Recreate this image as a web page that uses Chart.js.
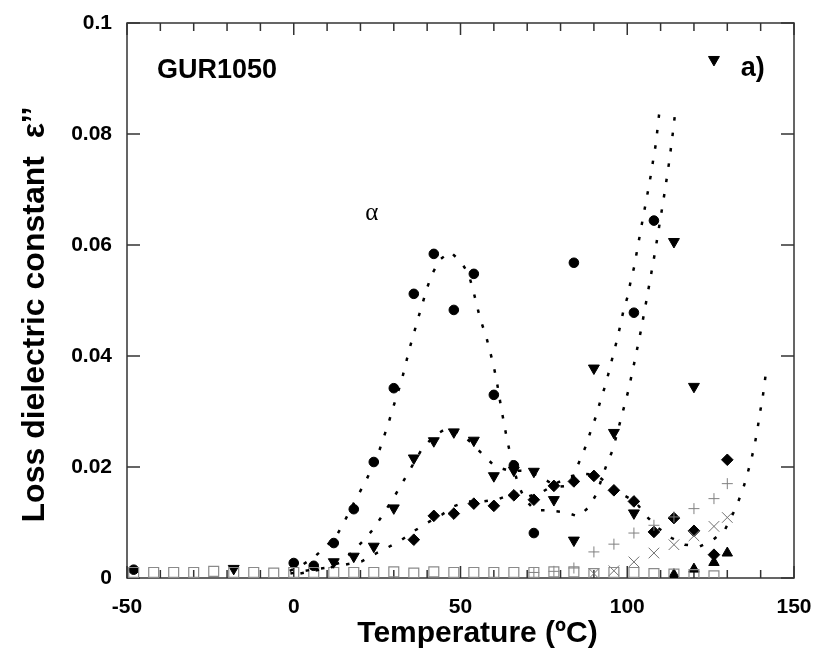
<!DOCTYPE html>
<html>
<head>
<meta charset="utf-8">
<script src="https://cdn.jsdelivr.net/npm/chart.js@4.4.0/dist/chart.umd.min.js"></script>
<style>
html,body{margin:0;padding:0;background:#fff}
canvas{display:block}
</style>
</head>
<body>
<canvas id="c" width="817" height="667"></canvas>
<script>
// ---- tick labels ----
const xTickLabels = ['-50', '0', '50', '100', '150'];
const yTickLabels = ['0', '0.02', '0.04', '0.06', '0.08', '0.1'];

// ---- measured series (Temperature in ºC, loss ε'') ----
const circleX = [-48, 0, 6, 12, 18, 24, 30, 36, 42, 48, 54, 60, 66, 72, 84, 102, 108];
const circleY = [0.0015, 0.0027, 0.0022, 0.0063, 0.0124, 0.0209, 0.0342, 0.0512, 0.0584, 0.0483, 0.0548, 0.033, 0.0203, 0.0081, 0.0568, 0.0478, 0.0644];

const triDownX = [-18, 12, 18, 24, 30, 36, 42, 48, 54, 60, 66, 72, 78, 84, 90, 96, 102, 114, 120, 126];
const triDownY = [0.0017, 0.0029, 0.0039, 0.0057, 0.0126, 0.0216, 0.0247, 0.0263, 0.0248, 0.0184, 0.0194, 0.0192, 0.0141, 0.0068, 0.0378, 0.0262, 0.0117, 0.0606, 0.0345, 0.0934];

const diamondX = [36, 42, 48, 54, 60, 66, 72, 78, 84, 90, 96, 102, 108, 114, 120, 126, 130];
const diamondY = [0.0069, 0.0112, 0.0116, 0.0134, 0.013, 0.0149, 0.0141, 0.0166, 0.0174, 0.0184, 0.0158, 0.0138, 0.0083, 0.0108, 0.0085, 0.0042, 0.0213];

const plusX = [72, 78, 84, 90, 96, 102, 108, 114, 120, 126, 130];
const plusY = [0.001, 0.0012, 0.0018, 0.0047, 0.0061, 0.0081, 0.0095, 0.011, 0.0125, 0.0143, 0.017];

const crossX = [90, 96, 102, 108, 114, 120, 126, 130];
const crossY = [0.0008, 0.0013, 0.0029, 0.0045, 0.006, 0.0076, 0.0093, 0.0109];

const triUpX = [114, 120, 126, 130];
const triUpY = [0.0006, 0.0016, 0.0028, 0.0045];

const squareX = [-48, -42, -36, -30, -24, -18, -12, -6, 0, 6, 12, 18, 24, 30, 36, 42, 48, 54, 60, 66, 72, 78, 84, 90, 96, 102, 108, 114, 120, 126];
const squareY = [0.001, 0.001, 0.001, 0.001, 0.0012, 0.001, 0.001, 0.0009, 0.001, 0.001, 0.001, 0.001, 0.001, 0.0011, 0.0009, 0.0011, 0.001, 0.001, 0.001, 0.001, 0.001, 0.0011, 0.0011, 0.0008, 0.001, 0.001, 0.0008, 0.0007, 0.0006, 0.0004];

// ---- dotted fit curves ----
const fit1X = [-1.2, 2.2, 6.2, 9.7, 13, 15.2, 18, 21.8, 25.4, 28.4, 29.9, 32.4, 34.7, 37.3, 40, 41.5, 43.9, 46.9, 50.1, 52.4, 53.7, 55.9, 57.7, 59.8, 60.8, 62.3, 64, 65.8, 67.3, 69.3, 72.3, 76.3, 81.6, 85.3, 88.6, 90.8, 93.8, 95.6, 98, 100.3, 102.3, 104.2, 105.9, 107.5, 108.3, 109.8, 111.3, 112.6, 113.8, 114.3];
const fit1Y = [0.0013, 0.0022, 0.0038, 0.0057, 0.0078, 0.0102, 0.0135, 0.0177, 0.0225, 0.0279, 0.0309, 0.0357, 0.0413, 0.0468, 0.0523, 0.0548, 0.0574, 0.0588, 0.057, 0.0548, 0.0521, 0.0467, 0.0435, 0.0386, 0.0357, 0.0303, 0.0248, 0.0201, 0.0168, 0.0142, 0.0122, 0.0122, 0.0118, 0.0111, 0.0128, 0.0152, 0.0204, 0.023, 0.0284, 0.0337, 0.0393, 0.0449, 0.0505, 0.0559, 0.0586, 0.0642, 0.0698, 0.0751, 0.0808, 0.0835];

const fit2X = [-1, 2.4, 5.4, 9.4, 14, 17.4, 20.7, 23.7, 26.4, 30, 33.4, 38.3, 42, 44.8, 47.5, 49.8, 53, 56.8, 60.3, 64.3, 68.8, 72.8, 76, 79, 82, 84, 85.8, 87.6, 89, 90.6, 91.8, 93.2, 94.4, 95.6, 96.8, 97.8, 98.8, 100.1, 101, 102.1, 103, 104.6, 106.3, 107.1, 107.8, 108.6, 109.1, 109.6];
const fit2Y = [0.0008, 0.0012, 0.0015, 0.0018, 0.0028, 0.0046, 0.0066, 0.0087, 0.0111, 0.0145, 0.018, 0.0231, 0.0256, 0.0266, 0.0267, 0.0261, 0.0245, 0.0222, 0.0201, 0.0194, 0.0193, 0.0186, 0.0175, 0.0164, 0.0166, 0.0186, 0.0212, 0.0238, 0.0264, 0.0291, 0.0316, 0.0343, 0.0369, 0.0398, 0.0426, 0.0452, 0.048, 0.0507, 0.0534, 0.0561, 0.0592, 0.0645, 0.07, 0.0727, 0.0754, 0.0783, 0.0811, 0.0838];

const fit3X = [2, 10, 15.4, 20.4, 23.9, 27.9, 32.4, 35.9, 39.9, 44.4, 47.9, 51.9, 56.9, 61.4, 65.9, 70.4, 74.8, 78.8, 82.8, 86.8, 90.8, 92.6, 96.1, 99.3, 102.3, 106.3, 109.3, 113.3, 117.2, 121.8, 125.8, 129.3, 131.8, 133.3, 134.8, 136.1, 137.3, 138.3, 139.1, 139.8, 140.6, 141.2, 141.8];
const fit3Y = [0.0008, 0.0018, 0.0024, 0.003, 0.0042, 0.0054, 0.0069, 0.0084, 0.0099, 0.0114, 0.0129, 0.0138, 0.0138, 0.0142, 0.0153, 0.0147, 0.0156, 0.0171, 0.0183, 0.0188, 0.0186, 0.0177, 0.016, 0.0148, 0.0138, 0.0108, 0.009, 0.0072, 0.006, 0.0057, 0.0069, 0.0087, 0.0117, 0.0138, 0.0162, 0.0189, 0.0216, 0.0243, 0.027, 0.0298, 0.0325, 0.0352, 0.038];

// ---- helpers ----
const pts = (xs, ys) => xs.map((x, i) => ({x: x, y: ys[i]}));
const FONT = "'Liberation Sans', Arial, Helvetica, sans-serif";
const AXIS_COLOR = '#333';

function markers(xs, ys, style, opts) {
  return Object.assign({
    data: pts(xs, ys), showLine: false, pointStyle: style,
    pointBackgroundColor: '#000', pointBorderColor: '#000', pointBorderWidth: 1,
    pointRadius: 5, pointHoverRadius: 5
  }, opts || {});
}
function fitLine(xs, ys) {
  return {
    data: pts(xs, ys), showLine: true, pointRadius: 0, pointHoverRadius: 0,
    borderColor: '#000', borderWidth: 2.5, borderDash: [3.5, 12], borderCapStyle: 'butt',
    tension: 0, fill: false
  };
}

const annotations = [
  {text: 'GUR1050', x: -41, y: 0.0914, font: 'bold 27px ' + FONT, align: 'left'},
  {text: 'a)', x: 134, y: 0.0918, font: 'bold 27px ' + FONT, align: 'left'},
  {text: 'α', x: 23.4, y: 0.0656, font: '25px "Liberation Serif", "DejaVu Serif", serif', align: 'center'}
];

const decor = {
  id: 'decor',
  beforeDatasetsDraw(chart) {
    const {ctx, chartArea: a, scales: {x, y}} = chart;
    ctx.save();
    ctx.strokeStyle = AXIS_COLOR;
    ctx.lineWidth = 1.5;
    ctx.strokeRect(a.left, a.top, a.right - a.left, a.bottom - a.top);
    ctx.beginPath();
    for (let v = x.min; v <= x.max + 1e-9; v += 10) {
      const px = x.getPixelForValue(v);
      const len = (Math.round(v) % 50 === 0) ? 12 : 8;
      ctx.moveTo(px, a.bottom); ctx.lineTo(px, a.bottom - len);
      ctx.moveTo(px, a.top); ctx.lineTo(px, a.top + len);
    }
    for (let i = 0; i < yTickLabels.length; i++) {
      const py = y.getPixelForValue(Number(yTickLabels[i]));
      ctx.moveTo(a.left, py); ctx.lineTo(a.left + 13, py);
      ctx.moveTo(a.right, py); ctx.lineTo(a.right - 13, py);
    }
    ctx.stroke();
    ctx.restore();
  },
  afterDraw(chart) {
    const {ctx, chartArea: a, scales: {x, y}} = chart;
    ctx.save();
    ctx.fillStyle = '#000';
    ctx.textBaseline = 'middle';
    annotations.forEach(t => {
      ctx.font = t.font;
      ctx.textAlign = t.align;
      ctx.fillText(t.text, x.getPixelForValue(t.x), y.getPixelForValue(t.y));
    });
    // axis titles
    ctx.textAlign = 'center';
    ctx.font = 'bold 30px ' + FONT;
    ctx.fillText('Temperature (ºC)', (a.left + a.right) / 2 + 17, a.bottom + 56);
    ctx.save();
    ctx.translate(35, (a.top + a.bottom) / 2 + 14);
    ctx.rotate(-Math.PI / 2);
    ctx.font = 'bold 32px ' + FONT;
    ctx.fillText('Loss dielectric constant  ε’’', 0, 0);
    ctx.restore();
    ctx.restore();
  }
};

new Chart(document.getElementById('c'), {
  type: 'scatter',
  data: {
    datasets: [
      fitLine(fit1X, fit1Y),
      fitLine(fit2X, fit2Y),
      fitLine(fit3X, fit3Y),
      markers(squareX, squareY, 'rect', {pointBackgroundColor: 'rgba(0,0,0,0)', pointBorderColor: '#8a8a8a', pointBorderWidth: 1.2, pointRadius: 7}),
      markers(plusX, plusY, 'cross', {pointBorderColor: '#808080', pointBorderWidth: 1, pointRadius: 5.5}),
      markers(crossX, crossY, 'crossRot', {pointBorderColor: '#707070', pointBorderWidth: 1, pointRadius: 7.5}),
      markers(triUpX, triUpY, 'triangle', {pointRadius: 6}),
      markers(diamondX, diamondY, 'rectRot', {pointRadius: 5.8}),
      markers(triDownX, triDownY, 'triangle', {pointRadius: 6.3, pointRotation: 180}),
      markers(circleX, circleY, 'circle', {pointRadius: 4.8})
    ]
  },
  options: {
    responsive: false,
    animation: false,
    events: [],
    layout: {padding: {top: 23, right: 23, left: 0, bottom: 0}},
    plugins: {legend: {display: false}, tooltip: {enabled: false}},
    scales: {
      x: {
        type: 'linear', min: -50, max: 150,
        ticks: {
          stepSize: 50, padding: 17, color: '#000',
          font: {family: FONT, size: 21, weight: 'bold'},
          callback: (v) => xTickLabels.find(l => Math.abs(Number(l) - v) < 1e-9) || ''
        },
        grid: {display: false, drawTicks: false},
        border: {display: false},
        afterFit: (s) => { s.height = 89; s.paddingLeft = 0; s.paddingRight = 0; }
      },
      y: {
        type: 'linear', min: 0, max: 0.1,
        ticks: {
          stepSize: 0.02, padding: 15, color: '#000',
          font: {family: FONT, size: 21, weight: 'bold'},
          callback: (v) => yTickLabels.find(l => Math.abs(Number(l) - v) < 1e-9) || ''
        },
        grid: {display: false, drawTicks: false},
        border: {display: false},
        afterFit: (s) => { s.width = 127; s.paddingTop = 0; s.paddingBottom = 0; }
      }
    }
  },
  plugins: [decor]
});
</script>
</body>
</html>
